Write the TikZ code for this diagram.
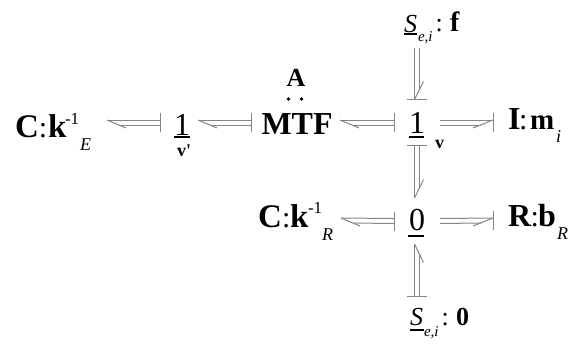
\documentclass[tikz,border=0pt]{standalone}
\usepackage{fontspec}
\setmainfont{Liberation Serif}
\usetikzlibrary{calc}
\definecolor{bondgray}{HTML}{858585}
% one piece of a label: x from the node's left side, y upward from its centre line
\newcommand{\pc}[3]{\rlap{\hspace*{#1pt}\raisebox{#2pt}[0pt][0pt]{#3}}}
\newcommand{\fs}[1]{\fontsize{#1}{#1}\selectfont}
% bond with half arrow at #1 and stroke at #2
\newcommand{\hbond}[2]{%
  \draw[bondline] ($(#1)+(0,-2.5)$) -- ($(#2)+(0,-2.5)$);
  \draw[bondline] ($(#1)+(12,2.5)$) -- ($(#2)+(0,2.5)$);
  \draw[bondline] ($(#1)+(0,-2.5)$) -- ($(#1)+(19,5.5)$);
  \draw[bondline] ($(#2)+(0,-9.5)$) -- ($(#2)+(0,9.5)$);}
% bond from #1 with half arrow and stroke together at #2
\newcommand{\hbondb}[2]{%
  \draw[bondline] ($(#1)+(0,-2.5)$) -- ($(#2)+(0,-2.5)$);
  \draw[bondline] ($(#1)+(0,2.5)$) -- ($(#2)+(-12,2.5)$);
  \draw[bondline] ($(#2)+(0,-2.5)$) -- ($(#2)+(-20,5.5)$);
  \draw[bondline] ($(#2)+(0,-9.5)$) -- ($(#2)+(0,9.5)$);}
% vertical bond, half arrow at #1, stroke at #2; #3 = direction from tip along the bond
\newcommand{\vbond}[3]{%
  \draw[bondline] ($(#1)+(-2.5,0)$) -- ($(#2)+(-2.5,0)$);
  \draw[bondline] ($(#1)+(2.5,#3*10)$) -- ($(#2)+(2.5,0)$);
  \draw[bondline] ($(#1)+(-2.5,0)$) -- ($(#1)+(6.5,#3*18.5)$);
  \draw[bondline] ($(#2)+(-10,0)$) -- ($(#2)+(10,0)$);}
% vertical bond from #1 with half arrow and stroke together at #2
\newcommand{\vbondb}[2]{%
  \draw[bondline] ($(#1)+(-2.5,0)$) -- ($(#2)+(-2.5,0)$);
  \draw[bondline] ($(#1)+(2.5,0)$) -- ($(#2)+(2.5,-10)$);
  \draw[bondline] ($(#2)+(-2.5,0)$) -- ($(#2)+(6.5,-18)$);
  \draw[bondline] ($(#2)+(-10,0)$) -- ($(#2)+(10,0)$);}
\tikzset{
  x=1pt,y=-1pt,
  bondline/.style={draw=bondgray,line width=1pt},
  elem/.style={inner sep=0pt,outer sep=0pt,font=\fs{32}},
  ubar/.style={draw=black,line width=1.4pt},
  smallb/.style={inner sep=0pt,outer sep=0pt,anchor=base west,font=\bfseries\fs{18}},
  dot/.style={circle,fill=black,inner sep=0pt,minimum size=3.6pt}
}
\begin{document}
\begin{tikzpicture}
\useasboundingbox (0,0) rectangle (572,343);
\node[elem] (ce) at (61,122.5) {\makebox[92pt][l]{%
  \pc{0}{-14.5}{\fs{33}\textbf{C}}\pc{24}{-14.5}{\fs{30}:}\pc{33}{-14.5}{\fs{33}\textbf{k}}%
  \pc{50}{-2}{\fs{17}-1}\pc{65}{-27.5}{\fs{18}\textit{E}}}};
\node[elem] (oneE) at (179,122.5) {\makebox[38pt][l]{\pc{14}{-12.5}{1}}};
\node[smallb] (vp) at (177,156) {v\textquotesingle};
\node[elem] (mtf) at (295.5,122.5) {\makebox[89pt][l]{\pc{10.5}{-11.5}{\textbf{MTF}}}};
\node[elem,anchor=base,font=\bfseries\fs{26}] (a) at (296,86) {A};
\node[dot] (d1) at (288.5,99) {};
\node[dot] (d2) at (301.5,99) {};
\node[elem,minimum height=46pt] (one) at (417,122.5) {\makebox[46pt][l]{\pc{15}{-10.5}{1}}};
\node[smallb] (v) at (435,148) {v};
\node[elem,font=\fs{26}] (st) at (417,47) {\makebox[40pt][l]{%
  \pc{7}{15}{\textit{S}}\pc{21}{6}{\fs{15}\textit{e,i}}\pc{38.5}{16}{:}\pc{53}{16}{\fs{28}\textbf{f}}}};
\node[elem] (im) at (525,122.5) {\makebox[64pt][l]{%
  \pc{15}{-6.5}{\textbf{I}}\pc{26}{-6.5}{\fs{30}:}\pc{37}{-6.5}{\fs{29}\textbf{m}}\pc{63}{-19.5}{\fs{18}\textit{i}}}};
\node[elem] (cr) at (299.5,220.5) {\makebox[83pt][l]{%
  \pc{0}{-6.5}{\fs{33}\textbf{C}}\pc{24}{-6.5}{\fs{30}:}\pc{32}{-6.5}{\fs{33}\textbf{k}}%
  \pc{50}{7.5}{\fs{17}-1}\pc{64}{-19.5}{\fs{18}\textit{R}}}};
\node[elem,minimum height=46pt] (zero) at (417,221) {\makebox[46pt][l]{\pc{15}{-9}{0}}};
\node[elem] (rb) at (525,220.5) {\makebox[64pt][l]{%
  \pc{15}{-6}{\textbf{R}}\pc{37.5}{-6}{\fs{30}:}\pc{45}{-6}{\textbf{b}}\pc{64}{-18.5}{\fs{18}\textit{R}}}};
\node[elem,font=\fs{26}] (sb) at (417,297) {\makebox[40pt][l]{%
  \pc{13}{-28}{\textit{S}}\pc{27}{-39}{\fs{15}\textit{e,i}}\pc{44.5}{-28}{:}\pc{59}{-28}{\textbf{0}}}};
% underlines of the junction symbols and source symbols
\draw[ubar] (174,137) -- (190,137);
\draw[ubar] (409,137) -- (424,137);
\draw[ubar] (408,236) -- (424,236);
\draw[ubar] (404,34) -- (417,34);
\draw[ubar] (410,330) -- (424,330);
% bonds
\hbond{ce.east}{oneE.west}
\hbond{oneE.east}{mtf.west}
\hbond{mtf.east}{one.west}
\hbondb{one.east}{im.west}
\vbondb{st.south}{one.north}
\vbond{zero.north}{one.south}{-1}
\hbond{cr.east}{zero.west}
\hbondb{zero.east}{rb.west}
\vbond{zero.south}{sb.north}{1}
\end{tikzpicture}
\end{document}
